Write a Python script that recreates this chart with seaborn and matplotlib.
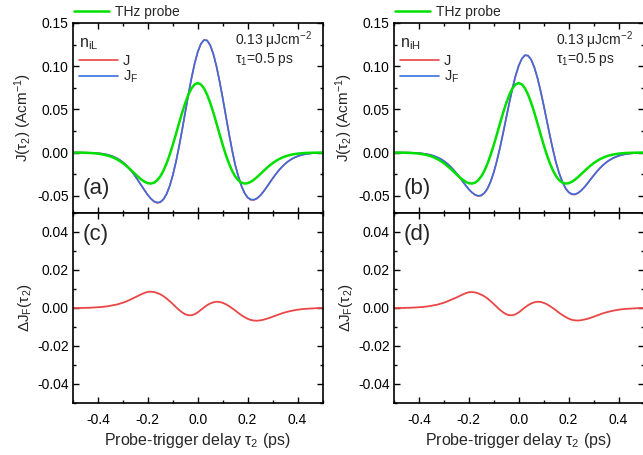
import numpy as np
import matplotlib
matplotlib.use("Agg")
import matplotlib.pyplot as plt
import seaborn as sns
from matplotlib.ticker import MultipleLocator, FormatStrFormatter

# probe-trigger delay tau_2 (ps), step 0.0125
tau = np.linspace(-0.5, 0.5, 81)

thz_probe = [-0.0001, -0.0001, -0.0001, -0.0002, -0.0003, -0.0004, -0.0006, -0.0009, -0.0013, -0.0018,
             -0.0025, -0.0034, -0.0045, -0.0060, -0.0077, -0.0099, -0.0123, -0.0152, -0.0183, -0.0217,
             -0.0251, -0.0284, -0.0315, -0.0339, -0.0355, -0.0359, -0.0349, -0.0321, -0.0276, -0.0210,
             -0.0126, -0.0026, 0.0089, 0.0212, 0.0339, 0.0462, 0.0575, 0.0670, 0.0744, 0.0789,
             0.0805,
             0.0789, 0.0744, 0.0670, 0.0575, 0.0462, 0.0339, 0.0212, 0.0089, -0.0026, -0.0126,
             -0.0210, -0.0276, -0.0321, -0.0349, -0.0359, -0.0355, -0.0339, -0.0315, -0.0284, -0.0251,
             -0.0217, -0.0183, -0.0152, -0.0123, -0.0099, -0.0077, -0.0060, -0.0045, -0.0034, -0.0025,
             -0.0018, -0.0013, -0.0009, -0.0006, -0.0004, -0.0003, -0.0002, -0.0001, -0.0001, -0.0001]

j_iL = [0.0, 0.0, -0.0001, -0.0001, -0.0002, -0.0003, -0.0004, -0.0006, -0.0009, -0.0012,
        -0.0018, -0.0025, -0.0035, -0.0048, -0.0065, -0.0087, -0.0113, -0.0145, -0.0184, -0.0227,
        -0.0276, -0.0330, -0.0385, -0.0440, -0.0492, -0.0536, -0.0568, -0.0583, -0.0576, -0.0543,
        -0.0481, -0.0388, -0.0263, -0.0110, 0.0068, 0.0263, 0.0468, 0.0671, 0.0862, 0.1030,
        0.1165,
        0.1258, 0.1303, 0.1298, 0.1243, 0.1141, 0.0999, 0.0825, 0.0631, 0.0427, 0.0223,
        0.0031, -0.0143, -0.0274, -0.0386, -0.0468, -0.0522, -0.0547, -0.0549, -0.0532, -0.0499,
        -0.0456, -0.0406, -0.0353, -0.0301, -0.0251, -0.0206, -0.0166, -0.0131, -0.0102, -0.0078,
        -0.0058, -0.0043, -0.0031, -0.0022, -0.0016, -0.0011, -0.0007, -0.0005, -0.0003, -0.0002]
jf_iL = [0.0, 0.0, -0.0001, -0.0001, -0.0002, -0.0003, -0.0004, -0.0006, -0.0009, -0.0012,
         -0.0018, -0.0025, -0.0035, -0.0048, -0.0065, -0.0087, -0.0113, -0.0145, -0.0184, -0.0227,
         -0.0276, -0.0330, -0.0385, -0.0440, -0.0492, -0.0534, -0.0565, -0.0579, -0.0572, -0.0540,
         -0.0481, -0.0388, -0.0263, -0.0110, 0.0068, 0.0263, 0.0468, 0.0671, 0.0862, 0.1030,
         0.1165,
         0.1258, 0.1303, 0.1298, 0.1243, 0.1141, 0.0999, 0.0825, 0.0631, 0.0427, 0.0223,
         0.0031, -0.0143, -0.0274, -0.0386, -0.0468, -0.0519, -0.0544, -0.0546, -0.0530, -0.0499,
         -0.0456, -0.0406, -0.0353, -0.0301, -0.0251, -0.0206, -0.0166, -0.0131, -0.0102, -0.0078,
         -0.0058, -0.0043, -0.0031, -0.0022, -0.0016, -0.0011, -0.0007, -0.0005, -0.0003, -0.0002]

j_iH = [0.0, 0.0, -0.0001, -0.0001, -0.0001, -0.0002, -0.0003, -0.0005, -0.0007, -0.0011,
        -0.0016, -0.0022, -0.0031, -0.0042, -0.0057, -0.0075, -0.0098, -0.0126, -0.0159, -0.0197,
        -0.0239, -0.0285, -0.0333, -0.0381, -0.0426, -0.0463, -0.0491, -0.0504, -0.0498, -0.0469,
        -0.0416, -0.0335, -0.0228, -0.0095, 0.0059, 0.0228, 0.0405, 0.0580, 0.0745, 0.0891,
        0.1007,
        0.1087, 0.1127, 0.1122, 0.1074, 0.0986, 0.0864, 0.0714, 0.0546, 0.0369, 0.0193,
        0.0027, -0.0123, -0.0243, -0.0341, -0.0414, -0.0461, -0.0484, -0.0486, -0.0470, -0.0441,
        -0.0403, -0.0359, -0.0312, -0.0266, -0.0222, -0.0182, -0.0146, -0.0116, -0.0090, -0.0069,
        -0.0052, -0.0038, -0.0028, -0.0020, -0.0014, -0.0010, -0.0007, -0.0004, -0.0003, -0.0002]
jf_iH = [0.0, 0.0, -0.0001, -0.0001, -0.0001, -0.0002, -0.0003, -0.0005, -0.0007, -0.0011,
         -0.0016, -0.0022, -0.0031, -0.0042, -0.0057, -0.0075, -0.0098, -0.0126, -0.0159, -0.0197,
         -0.0239, -0.0285, -0.0333, -0.0381, -0.0426, -0.0462, -0.0489, -0.0501, -0.0495, -0.0467,
         -0.0416, -0.0335, -0.0228, -0.0095, 0.0059, 0.0228, 0.0405, 0.0580, 0.0745, 0.0891,
         0.1007,
         0.1087, 0.1127, 0.1122, 0.1074, 0.0986, 0.0864, 0.0714, 0.0546, 0.0369, 0.0193,
         0.0027, -0.0123, -0.0243, -0.0341, -0.0414, -0.0458, -0.0481, -0.0483, -0.0468, -0.0440,
         -0.0403, -0.0359, -0.0312, -0.0266, -0.0222, -0.0182, -0.0146, -0.0116, -0.0090, -0.0069,
         -0.0052, -0.0038, -0.0028, -0.0020, -0.0014, -0.0010, -0.0007, -0.0004, -0.0003, -0.0002]

dj_iL = [0.0, 0.0, 0.0, 0.0, 0.0001, 0.0001, 0.0002, 0.0003, 0.0004, 0.0005,
         0.0007, 0.0009, 0.0012, 0.0015, 0.0018, 0.0023, 0.0028, 0.0034, 0.0041, 0.0049,
         0.0057, 0.0065, 0.0073, 0.0080, 0.0085, 0.0086, 0.0084, 0.0079, 0.0072, 0.0062,
         0.0050, 0.0036, 0.0021, 0.0005, -0.0010, -0.0023, -0.0033, -0.0038, -0.0038, -0.0033,
         -0.0023,
         -0.0010, 0.0003, 0.0015, 0.0024, 0.0030, 0.0033, 0.0032, 0.0027, 0.0020, 0.0010,
         -0.0001, -0.0013, -0.0026, -0.0038, -0.0048, -0.0057, -0.0063, -0.0066, -0.0067, -0.0065,
         -0.0062, -0.0057, -0.0052, -0.0046, -0.0040, -0.0034, -0.0028, -0.0023, -0.0019, -0.0015,
         -0.0012, -0.0009, -0.0007, -0.0005, -0.0004, -0.0003, -0.0002, -0.0001, 0.0, 0.0]
dj_iH = [0.0, 0.0, 0.0, 0.0, 0.0001, 0.0001, 0.0002, 0.0003, 0.0004, 0.0005,
         0.0007, 0.0009, 0.0012, 0.0015, 0.0018, 0.0023, 0.0028, 0.0034, 0.0041, 0.0048,
         0.0055, 0.0063, 0.0071, 0.0078, 0.0083, 0.0084, 0.0082, 0.0077, 0.0070, 0.0061,
         0.0050, 0.0036, 0.0021, 0.0005, -0.0010, -0.0023, -0.0033, -0.0038, -0.0038, -0.0033,
         -0.0023,
         -0.0010, 0.0003, 0.0015, 0.0024, 0.0030, 0.0033, 0.0032, 0.0027, 0.0020, 0.0010,
         -0.0001, -0.0013, -0.0026, -0.0037, -0.0047, -0.0056, -0.0062, -0.0065, -0.0066, -0.0064,
         -0.0061, -0.0057, -0.0052, -0.0046, -0.0040, -0.0034, -0.0028, -0.0023, -0.0019, -0.0015,
         -0.0012, -0.0009, -0.0007, -0.0005, -0.0004, -0.0003, -0.0002, -0.0001, 0.0, 0.0]

panels = [
    {"j": j_iL, "jf": jf_iL, "dj": dj_iL, "dens": "n$_\\mathrm{iL}$", "top": "(a)", "bot": "(c)"},
    {"j": j_iH, "jf": jf_iH, "dj": dj_iH, "dens": "n$_\\mathrm{iH}$", "top": "(b)", "bot": "(d)"},
]

GREEN = "#00e000"
RED = "#eb4646"
BLUE = "#3a6ee0"

sns.set_style("ticks")
plt.rcParams["font.family"] = ["Liberation Sans", "DejaVu Sans"]
plt.rcParams["mathtext.fontset"] = "custom"
plt.rcParams["mathtext.rm"] = "Liberation Sans"
plt.rcParams["mathtext.it"] = "Liberation Sans:italic"
plt.rcParams["mathtext.bf"] = "Liberation Sans:bold"
plt.rcParams["axes.unicode_minus"] = False
plt.rcParams["axes.linewidth"] = 1.2
plt.rcParams["axes.edgecolor"] = "black"

fig = plt.figure(figsize=(6.43, 4.55), dpi=100)

lefts = [73 / 643, 394 / 643]
width = 249.5 / 643
height = 190 / 455


def style_axis(ax, ymaj, ymin):
    ax.set_xlim(-0.5, 0.5)
    ax.xaxis.set_major_locator(MultipleLocator(0.2))
    ax.xaxis.set_minor_locator(MultipleLocator(0.1))
    ax.yaxis.set_major_locator(MultipleLocator(ymaj))
    ax.yaxis.set_minor_locator(MultipleLocator(ymin))
    ax.xaxis.set_major_formatter(FormatStrFormatter("%.1f"))
    ax.yaxis.set_major_formatter(FormatStrFormatter("%.2f"))
    ax.tick_params(which="both", direction="in", top=True, right=True, colors="black",
                   labelsize=10, width=1.0)
    ax.tick_params(which="major", length=4)
    ax.tick_params(which="minor", length=2)
    ax.tick_params(axis="x", pad=7)
    ax.tick_params(axis="y", pad=3)
    ax.set_xlabel("")
    ax.set_ylabel("")


for p, x0 in zip(panels, lefts):
    ax_top = fig.add_axes([x0, 1 - 213 / 455, width, height])
    ax_bot = fig.add_axes([x0, 1 - 403 / 455, width, height])

    sns.lineplot(x=tau, y=p["j"], ax=ax_top, color=RED, linewidth=1.2, label="J")
    sns.lineplot(x=tau, y=p["jf"], ax=ax_top, color=BLUE, linewidth=1.2, label="J$_\\mathrm{F}$")
    sns.lineplot(x=tau, y=thz_probe, ax=ax_top, color=GREEN, linewidth=1.8, label="THz probe")
    lines = ax_top.get_lines()

    style_axis(ax_top, 0.05, 0.025)
    ax_top.set_ylim(-0.07, 0.15)
    ax_top.tick_params(labelbottom=False)
    ax_top.set_ylabel("J(τ$_\\mathrm{2}$) (Acm$^{-1}$)", fontsize=11, labelpad=2)

    leg_probe = ax_top.legend([lines[2]], ["THz probe"], loc="lower left",
                              bbox_to_anchor=(0.0, 1.015), frameon=False, fontsize=10,
                              borderaxespad=0, borderpad=0.1, handlelength=2.5,
                              handletextpad=0.4)
    ax_top.add_artist(leg_probe)
    ax_top.legend(lines[:2], ["J", "J$_\\mathrm{F}$"], loc="upper left",
                  bbox_to_anchor=(0.0, 0.965), frameon=False, fontsize=10.5,
                  title=p["dens"], title_fontsize=11.5, alignment="left",
                  borderaxespad=0, borderpad=0.4, handlelength=2.7,
                  handletextpad=0.3, labelspacing=0.1)

    ax_top.text(0.65, 0.884, "0.13 μJcm$^{-2}$", transform=ax_top.transAxes,
                fontsize=10, va="baseline", ha="left")
    ax_top.text(0.65, 0.789, "τ$_\\mathrm{1}$=0.5 ps", transform=ax_top.transAxes,
                fontsize=10, va="baseline", ha="left")
    ax_top.text(0.04, 0.1, p["top"], transform=ax_top.transAxes,
                fontsize=16, va="baseline", ha="left")

    sns.lineplot(x=tau, y=p["dj"], ax=ax_bot, color=RED, linewidth=1.3, legend=False)
    style_axis(ax_bot, 0.02, 0.01)
    ax_bot.set_ylim(-0.05, 0.05)
    ax_bot.set_ylabel("ΔJ$_\\mathrm{F}$(τ$_\\mathrm{2}$)", fontsize=11, labelpad=2)
    ax_bot.set_xlabel("Probe-trigger delay τ$_\\mathrm{2}$ (ps)", fontsize=11.5, labelpad=3)
    ax_bot.text(0.04, 0.86, p["bot"], transform=ax_bot.transAxes,
                fontsize=16, va="baseline", ha="left")

fig.savefig("out.png", dpi=100)
plt.close(fig)
